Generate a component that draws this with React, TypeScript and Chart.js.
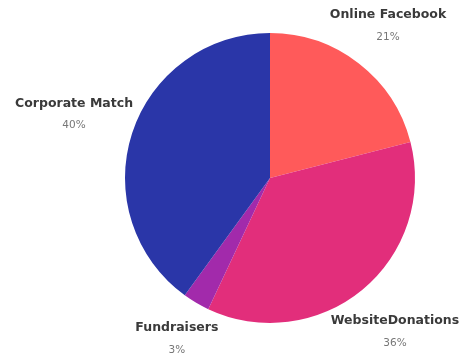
import React, { useEffect, useRef } from "react";
import { Chart, registerables } from "chart.js";

Chart.register(...registerables);

const categories = ["Online Facebook", "WebsiteDonations", "Fundraisers", "Corporate Match"];
const values = [21, 36, 3, 40];
const percentLabels = ["21%", "36%", "3%", "40%"];
const colors = ["#FF5A5A", "#E22E7B", "#A22AAB", "#2A36A8"];

const NAME_FONT = "bold 12.5px 'DejaVu Sans', Arial, sans-serif";
const PCT_FONT = "10.5px 'DejaVu Sans', Arial, sans-serif";

const outsideLabels = {
  id: "outsideLabels",
  afterDatasetsDraw(chart: any) {
    const ctx = chart.ctx;
    const meta = chart.getDatasetMeta(0);
    ctx.save();
    ctx.textAlign = "center";
    ctx.textBaseline = "middle";
    meta.data.forEach((arc: any, i: number) => {
      const { x, y, startAngle, endAngle, outerRadius } = arc.getProps(
        ["x", "y", "startAngle", "endAngle", "outerRadius"],
        true
      );
      const mid = (startAngle + endAngle) / 2;
      const dx = Math.cos(mid);
      const dy = Math.sin(mid);
      ctx.font = NAME_FONT;
      const hw = ctx.measureText(categories[i]).width / 2;
      const off = 24 + 0.66 * Math.abs(dx) * hw;
      const cx = x + dx * (outerRadius + off);
      const cy = y + dy * (outerRadius + off) + 4 * Math.max(dy, 0);
      ctx.fillStyle = "#3a3a3a";
      ctx.font = NAME_FONT;
      ctx.fillText(categories[i], cx, cy - 11);
      ctx.fillStyle = "#777777";
      ctx.font = PCT_FONT;
      ctx.fillText(percentLabels[i], cx, cy + 11);
    });
    ctx.restore();
  },
};

export default function App() {
  const ref = useRef<HTMLCanvasElement | null>(null);
  useEffect(() => {
    if (!ref.current) return;
    const chart = new Chart(ref.current, {
      type: "pie",
      data: {
        labels: categories,
        datasets: [
          {
            data: values,
            backgroundColor: colors,
            borderWidth: 0,
          },
        ],
      },
      options: {
        responsive: false,
        animation: false,
        layout: { padding: { top: 33, bottom: 33, left: 125, right: 45 } },
        plugins: {
          legend: { display: false },
          tooltip: { enabled: false },
        },
      },
      plugins: [outsideLabels],
    });
    return () => chart.destroy();
  }, []);
  return (
    <div style={{ position: "absolute", left: 0, top: 0, width: 460, height: 356, background: "#fff" }}>
      <canvas ref={ref} width={460} height={356} />
    </div>
  );
}
